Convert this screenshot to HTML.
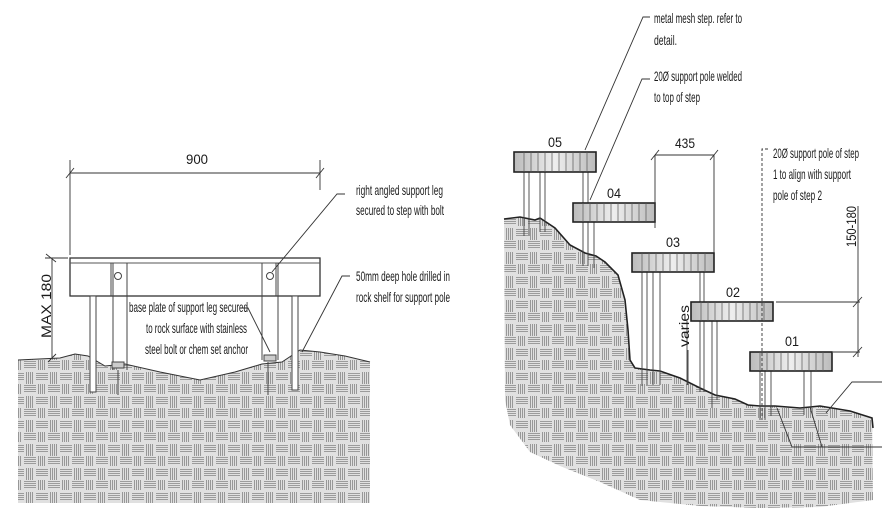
<!DOCTYPE html>
<html><head><meta charset="utf-8"><style>
html,body{margin:0;padding:0;background:#fff;}
svg{display:block;}
text{font-family:"Liberation Sans",sans-serif;font-size:14px;fill:#1a1a1a;}
</style></head><body>
<svg width="882" height="526" viewBox="0 0 882 526" xmlns="http://www.w3.org/2000/svg">
<defs>
<pattern id="rock" width="24" height="24" patternUnits="userSpaceOnUse">
<rect width="24" height="24" fill="#e0e0e0"/>
<g stroke="#858585" stroke-width="0.8">
<path d="M0 1.5H12M0 3.5H12M0 5.5H12M0 7.5H12"/>
<path d="M12 13.5H24M12 15.5H24M12 17.5H24M12 19.5H24"/>
<path d="M14.5 0V10M16.5 0V10M18.5 0V10M20.5 0V10"/>
<path d="M2.5 12V24M4.5 12V24M6.5 12V24M8.5 12V24"/>
</g>
</pattern>
<linearGradient id="stp" x1="0" x2="1">
<stop offset="0" stop-color="#bbb"/><stop offset="0.5" stop-color="#eee"/><stop offset="1" stop-color="#bbb"/>
</linearGradient>
</defs>

<!-- LEFT ROCK -->
<path d="M18 360 L60 358 L75 354 L88 356 L105 366 L125 364 L160 372 L200 380 L235 372 L262 364 L282 362 L300 350 L320 352 L345 356 L370 362 L370 503 L18 503 Z" fill="url(#rock)"/>
<path d="M18 360 L60 358 L75 354 L88 356 L105 366 L125 364 L160 372 L200 380 L235 372 L262 364 L282 362 L300 350 L320 352 L345 356 L370 362" fill="none" stroke="#333" stroke-width="1"/>

<!-- left step -->
<rect x="70" y="258" width="250" height="38" fill="#fff" stroke="#333" stroke-width="1.3"/>
<line x1="70" y1="263" x2="320" y2="263" stroke="#555"/>
<g stroke="#444" stroke-width="1" fill="none">
<path d="M111 263V296M113 263V370M127 263V370"/>
<path d="M262 263V360M276 263V296M278 263V360"/>
<circle cx="118" cy="276" r="3.5"/><circle cx="270" cy="276" r="3.5"/>
<rect x="90" y="296" width="6" height="96" fill="#fff"/>
<rect x="292" y="296" width="6" height="94" fill="#fff"/>
<path d="M118 370V395M268 362V395"/>
<rect x="112" y="362" width="12" height="6" fill="#ccc"/>
<rect x="264" y="355" width="12" height="6" fill="#ccc"/>
</g>
<!-- dims -->
<g stroke="#333" stroke-width="0.9" fill="none">
<path d="M70 173H320M70 160V255M320 160V190"/>
<path d="M66 178L74 168M316 178L324 168"/>
<path d="M52 258V358M46 254L56 262M48 362L56 354M45 258H68"/>
<path d="M345 194H337L272 272"/>
<path d="M350 276H342L302 352"/>
<path d="M240 308H248L270 352"/>
</g>
<text x="197" y="164" text-anchor="middle" textLength="22" lengthAdjust="spacingAndGlyphs">900</text>
<text transform="translate(51,338) rotate(-90)" textLength="64" lengthAdjust="spacingAndGlyphs">MAX 180</text>
<text x="356" y="195" textLength="87" lengthAdjust="spacingAndGlyphs">right angled support leg</text>
<text x="356" y="215" textLength="88" lengthAdjust="spacingAndGlyphs">secured to step with bolt</text>
<text x="356" y="281" textLength="94" lengthAdjust="spacingAndGlyphs">50mm deep hole drilled in</text>
<text x="356" y="302" textLength="94" lengthAdjust="spacingAndGlyphs">rock shelf for support pole</text>
<text x="129" y="312" textLength="119" lengthAdjust="spacingAndGlyphs">base plate of support leg secured</text>
<text x="146" y="333" textLength="101" lengthAdjust="spacingAndGlyphs">to rock surface with stainless</text>
<text x="145" y="354" textLength="103" lengthAdjust="spacingAndGlyphs">steel bolt or chem set anchor</text>

<!-- RIGHT ROCK -->
<path d="M504 219 L520 217 L535 220 L540 218 L555 228 L570 245 L585 253 L596 256 L605 262 L618 275 L625 300 L628 330 L630 360 L635 368 L650 370 L660 371 L680 378 L700 388 L715 395 L735 399 L748 405 L760 406 L775 406 L800 408 L820 406 L850 411 L872 418 L873 500 L820 507 L760 508 L700 506 L640 500 L600 482 L560 466 L530 452 L510 425 L505 400 Z" fill="url(#rock)"/>
<path d="M504 219 L520 217 L535 220 L540 218 L555 228 L570 245 L585 253 L596 256 L605 262 L618 275 L625 300 L628 330 L630 360 L635 368 L650 370 L660 371 L680 378 L700 388 L715 395 L735 399 L748 405 L760 406 L775 406 L800 408 L820 406 L850 411 L872 418 L873 428" fill="none" stroke="#222" stroke-width="1.6"/>

<!-- poles -->
<g stroke="#444" stroke-width="0.9" fill="#fff">
<path d="M524 172V236M529 172V236M540 172V232M545 172V232" fill="none"/>
<path d="M583 172V266M588 172V266M594 222V268" fill="none"/>
<path d="M642 272V386M647 272V386M653 272V385M660 272V385" fill="none"/>
<path d="M700 272V392M704 272V392M712 321V408M717 321V400M687 321V385" fill="none"/>
<path d="M760 371V420M765 371V420M771 371V416M804 371V415M811 371V412" fill="none"/>
</g>
<!-- steps -->
<g stroke="#222" stroke-width="1.6">
<rect x="514" y="152" width="82" height="20" fill="url(#stp)"/>
<rect x="573" y="203" width="82" height="19" fill="url(#stp)"/>
<rect x="632" y="253" width="82" height="19" fill="url(#stp)"/>
<rect x="691" y="302" width="82" height="19" fill="url(#stp)"/>
<rect x="750" y="352" width="82" height="19" fill="url(#stp)"/>
</g>
<g stroke="#555" stroke-width="0.7">
<path d="M524 152v20M531 152v20M538 152v20M545 152v20M552 152v20M559 152v20M566 152v20M573 152v20M580 152v20M587 152v20"/>
<path d="M583 203v19M590 203v19M597 203v19M604 203v19M611 203v19M618 203v19M625 203v19M632 203v19M639 203v19M646 203v19"/>
<path d="M642 253v19M649 253v19M656 253v19M663 253v19M670 253v19M677 253v19M684 253v19M691 253v19M698 253v19M705 253v19"/>
<path d="M701 302v19M708 302v19M715 302v19M722 302v19M729 302v19M736 302v19M743 302v19M750 302v19M757 302v19M764 302v19"/>
<path d="M760 352v19M767 352v19M774 352v19M781 352v19M788 352v19M795 352v19M802 352v19M809 352v19M816 352v19M823 352v19"/>
</g>
<text x="555" y="147" text-anchor="middle" textLength="14" lengthAdjust="spacingAndGlyphs">05</text>
<text x="614" y="198" text-anchor="middle" textLength="14" lengthAdjust="spacingAndGlyphs">04</text>
<text x="673" y="247" text-anchor="middle" textLength="14" lengthAdjust="spacingAndGlyphs">03</text>
<text x="733" y="297" text-anchor="middle" textLength="14" lengthAdjust="spacingAndGlyphs">02</text>
<text x="792" y="346" text-anchor="middle" textLength="14" lengthAdjust="spacingAndGlyphs">01</text>

<!-- leaders & dims right -->
<g stroke="#333" stroke-width="0.9" fill="none">
<path d="M650 17H643L585 150"/>
<path d="M650 79H642L590 200"/>
<path d="M655 155H714M655 155V228M714 155V253M651 160L659 150M710 160L718 150"/>
<path d="M776 302H860M833 352H860M858 206V357M853 307L862 297M853 357L862 347"/>
<path d="M688 350V385"/>
<path d="M882 382H852L826 413"/>
<path d="M777 408L792 447H882M810 407L822 447"/>
</g>
<path d="M768 149H762V420" stroke="#333" stroke-width="0.9" fill="none" stroke-dasharray="3,2"/>
<text x="654" y="23" textLength="88" lengthAdjust="spacingAndGlyphs">metal mesh step. refer to</text>
<text x="654" y="45" textLength="23" lengthAdjust="spacingAndGlyphs">detail.</text>
<text x="654" y="81" textLength="88" lengthAdjust="spacingAndGlyphs">20Ø support pole welded</text>
<text x="654" y="102" textLength="46" lengthAdjust="spacingAndGlyphs">to top of step</text>
<text x="685" y="148" text-anchor="middle" textLength="20" lengthAdjust="spacingAndGlyphs">435</text>
<text x="773" y="158" textLength="86" lengthAdjust="spacingAndGlyphs">20Ø support pole of step</text>
<text x="773" y="179" textLength="78" lengthAdjust="spacingAndGlyphs">1 to align with support</text>
<text x="773" y="200" textLength="49" lengthAdjust="spacingAndGlyphs">pole of step 2</text>
<text transform="translate(856,247) rotate(-90)" textLength="41" lengthAdjust="spacingAndGlyphs">150-180</text>
<text transform="translate(689,347) rotate(-90)" textLength="42" lengthAdjust="spacingAndGlyphs">varies</text>
</svg>
</body></html>
